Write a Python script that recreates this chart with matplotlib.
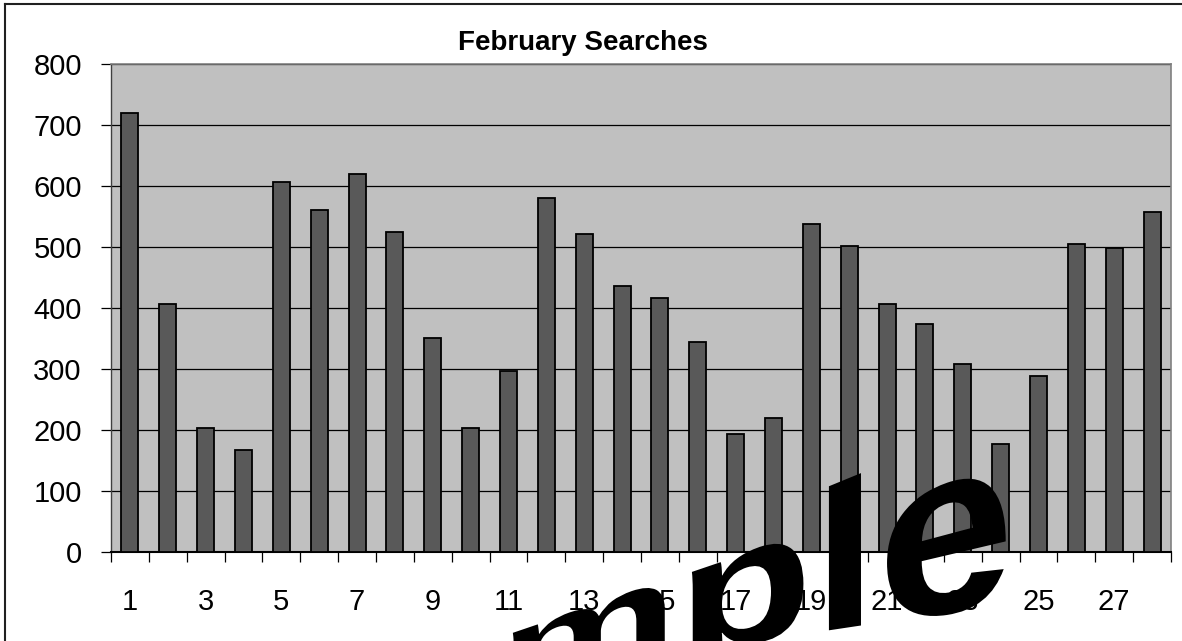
import matplotlib
matplotlib.use("Agg")
import matplotlib.pyplot as plt
import numpy as np
from matplotlib.patches import PathPatch
from matplotlib.lines import Line2D
from matplotlib.textpath import TextPath
from matplotlib.font_manager import FontProperties
from matplotlib.path import Path

days = list(range(1, 29))
searches = [720, 407, 203, 168, 607, 561, 620, 525, 351, 203, 296, 580, 521, 436,
            416, 344, 194, 220, 538, 502, 407, 374, 309, 177, 289, 505, 498, 558]
tick_labels = [str(d) for d in days if d % 2 == 1]
title = "February Searches"
watermark = "Sample"

W, H = 1182, 641
fig = plt.figure(figsize=(W / 100, H / 100), dpi=100)
plt.rcParams['font.family'] = ['Liberation Sans', 'DejaVu Sans']

left, right, top, bottom = 111, 1171, 64, 552
ax = fig.add_axes([left / W, 1 - bottom / H, (right - left) / W, (bottom - top) / H])
ax.set_facecolor('#C0C0C0')

x = np.arange(len(days))
ax.bar(x, searches, width=0.45, color='#595959', edgecolor='black', linewidth=1.3, zorder=3)

ax.set_xlim(-0.5, len(days) - 0.5)
ax.set_ylim(0, 800)
ax.set_yticks(np.arange(0, 801, 100))
ax.yaxis.grid(True, color='black', linewidth=0.9, zorder=1)
ax.set_axisbelow(True)

odd_pos = [i for i, d in enumerate(days) if d % 2 == 1]
ax.set_xticks(odd_pos)
ax.set_xticklabels(tick_labels)
ax.set_xticks(np.arange(-0.5, len(days) + 0.5, 1), minor=True)
ax.tick_params(axis='x', which='major', length=0, pad=26, labelsize=21)
ax.tick_params(axis='x', which='minor', length=7.5, width=0.9, color='black', direction='out')
ax.tick_params(axis='y', which='major', length=7.5, width=0.9, color='black', direction='out',
               pad=13.5, labelsize=21)

for s in ['top', 'right']:
    ax.spines[s].set_color('#808080')
    ax.spines[s].set_linewidth(1.2)
ax.spines['left'].set_color('#404040')
ax.spines['left'].set_linewidth(1.0)
ax.spines['bottom'].set_color('black')
ax.spines['bottom'].set_linewidth(1.5)

fig.text(583 / W, 1 - 50 / H, title, ha='center', va='baseline', fontsize=20, fontweight='bold')

# chart border (only top and left visible in the crop)
fig.add_artist(Line2D([4.5 / W, 4.5 / W], [0, 1 - 3.5 / H], transform=fig.transFigure,
                      color='#202020', linewidth=1.5))
fig.add_artist(Line2D([4.5 / W, 1], [1 - 3.5 / H, 1 - 3.5 / H], transform=fig.transFigure,
                      color='#202020', linewidth=1.5))

# watermark with perspective-like warp
tp = TextPath((0, 0), watermark, size=1,
              prop=FontProperties(family='Liberation Sans', weight='bold'))
verts = tp.vertices.copy()
u, v = verts[:, 0], verts[:, 1]
Xp = 293.4 + 151.8 * u + 14.3 * u ** 2
Hp = np.clip(206 + 0.36 * (Xp - 849), 20, None)
Yb = 627.3 - 0.15 * (Xp - 849)
Yp = Yb - v * Hp
new_verts = np.column_stack([Xp / W, 1 - Yp / H])
wm = PathPatch(Path(new_verts, tp.codes), transform=fig.transFigure,
               facecolor='black', edgecolor='none', zorder=10)
fig.add_artist(wm)

fig.savefig('out.png', dpi=100)
